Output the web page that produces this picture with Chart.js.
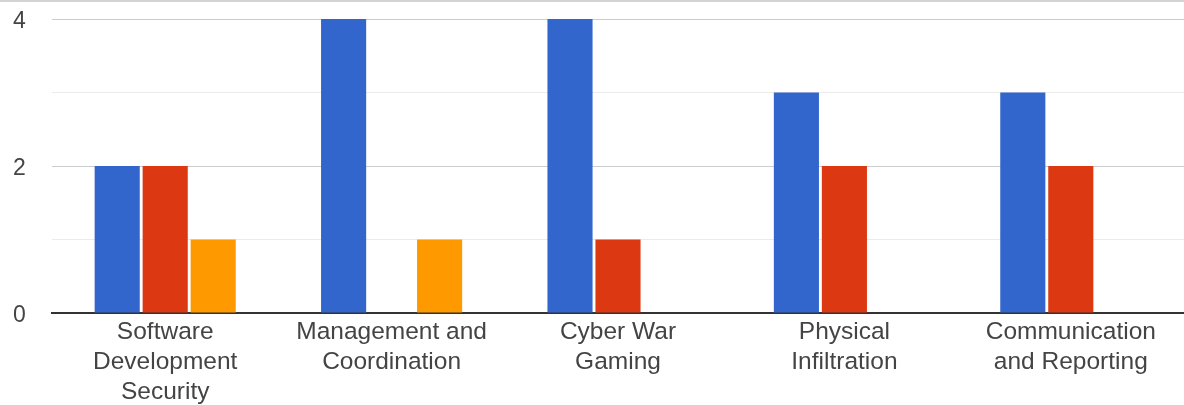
<!DOCTYPE html>
<html>
<head>
<meta charset="utf-8">
<script src="https://cdn.jsdelivr.net/npm/chart.js@4"></script>
<style>
  html, body { margin: 0; padding: 0; background: #fff; }
  #wrap { position: relative; width: 1184px; height: 405px; box-sizing: border-box; border-top: 2px solid #d4d4d4; }
  canvas { display: block; }
</style>
</head>
<body>
<div id="wrap"><canvas id="c" width="1184" height="403"></canvas></div>
<script>
// Topics and the three response series
const categories = [
  ["Software", "Development", "Security"],
  ["Management and", "Coordination"],
  ["Cyber War", "Gaming"],
  ["Physical", "Infiltration"],
  ["Communication", "and Reporting"]
];
const seriesBlue = [2, 4, 4, 3, 3];
const seriesRed = [2, 0, 1, 2, 2];
const seriesOrange = [1, 1, 0, 0, 0];
const yTicksShown = [0, 2, 4];

const FONT = "'Liberation Sans', Arial, sans-serif";

new Chart(document.getElementById('c'), {
  type: 'bar',
  data: {
    labels: categories,
    datasets: [
      { data: seriesBlue, backgroundColor: '#3366cc' },
      { data: seriesRed, backgroundColor: '#dc3912' },
      { data: seriesOrange, backgroundColor: '#ff9900' }
    ]
  },
  options: {
    responsive: false,
    animation: false,
    devicePixelRatio: 1,
    layout: { padding: { top: 17, right: 0, left: 13, bottom: 0 } },
    datasets: { bar: { categoryPercentage: 0.636, barPercentage: 0.94, borderWidth: 0 } },
    plugins: { legend: { display: false }, tooltip: { enabled: false } },
    scales: {
      x: {
        grid: { display: false, drawTicks: false },
        border: { color: '#333', width: 2 },
        ticks: { color: '#444', font: { family: FONT, size: 24.5, lineHeight: 1.225 }, padding: 4, maxRotation: 0, autoSkip: false },
        afterFit: (s) => { s.height = 92; }
      },
      y: {
        min: 0, max: 4,
        grid: {
          drawTicks: false,
          color: (ctx) => yTicksShown.includes(ctx.tick.value) ? '#cccccc' : '#ebebeb',
          lineWidth: 1
        },
        border: { display: false },
        ticks: {
          stepSize: 1,
          color: '#444',
          font: { family: FONT, size: 23, lineHeight: 1 },
          padding: 0,
          labelOffset: 3,
          crossAlign: 'far',
          callback: (v) => yTicksShown.includes(v) ? String(v) : ''
        },
        afterFit: (s) => { s.width = 39; }
      }
    }
  }
});
</script>
</body>
</html>
